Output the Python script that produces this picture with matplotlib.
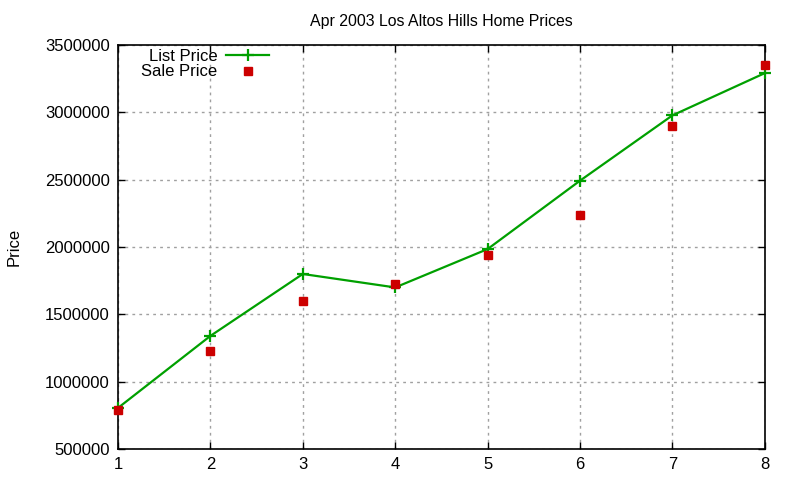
import matplotlib
matplotlib.use("Agg")
import matplotlib.pyplot as plt

months = [1, 2, 3, 4, 5, 6, 7, 8]
list_price = [805000, 1340000, 1800000, 1700000, 1985000, 2493000, 2978000, 3292000]
sale_price = [790000, 1230000, 1600000, 1725000, 1938000, 2237000, 2900000, 3354000]
yticks = [500000, 1000000, 1500000, 2000000, 2500000, 3000000, 3500000]

plt.rcParams['font.family'] = ['Liberation Sans', 'DejaVu Sans']

fig = plt.figure(figsize=(8, 4.8), dpi=100)
ax = fig.add_axes([0.1475, 0.0646, 0.956 - 0.1475, 0.906 - 0.0646])

ax.plot(months, list_price, color='#00a000', linewidth=1.6, marker='+',
        markersize=9, markeredgewidth=1.6, label='List Price', clip_on=False, zorder=3)
ax.plot(months, sale_price, linestyle='none', marker='s', color='#cc0000',
        markersize=6, label='Sale Price', clip_on=False, zorder=4)

ax.set_xlim(1, 8)
ax.set_ylim(500000, 3500000)
ax.set_xticks(months)
ax.set_yticks(yticks)
ax.set_yticklabels([str(v) for v in yticks])
ax.tick_params(direction='in', top=True, right=True, labelsize=12, length=5, width=1, pad=6)
ax.grid(True, color='#a0a0a0', linestyle=(0, (2, 3)), linewidth=1)
for s in ax.spines.values():
    s.set_linewidth(1.2)

ax.set_title('Apr 2003 Los Altos Hills Home Prices', fontsize=11.4, pad=14)
ax.set_ylabel('Price', fontsize=12, labelpad=17)

leg = ax.legend(loc='upper left', markerfirst=False, frameon=False, fontsize=12,
                handlelength=2.6, handletextpad=0.5, labelspacing=0.05,
                borderaxespad=0.0, bbox_to_anchor=(0.026, 1.008))
for t in leg.get_texts():
    t.set_ha('right')

fig.savefig('out.png', dpi=100)
